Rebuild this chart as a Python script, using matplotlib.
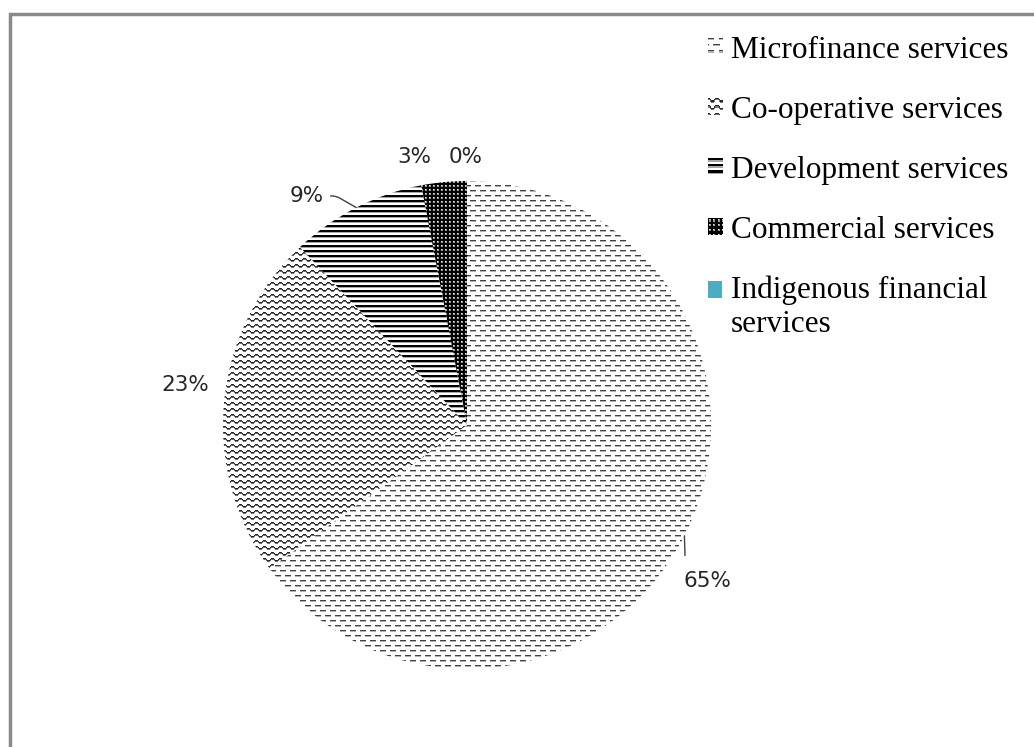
import numpy as np
import matplotlib
matplotlib.use('Agg')
import matplotlib.pyplot as plt
from matplotlib.patches import Patch, Rectangle
from matplotlib.image import BboxImage
from matplotlib.transforms import Bbox, TransformedBbox
from matplotlib.colors import Normalize

# Share of financial service providers
categories = ['Microfinance services', 'Co-operative services', 'Development services',
              'Commercial services', 'Indigenous financial\nservices']
shares = [65, 23, 9, 3, 0]
pct_labels = ['65%', '23%', '9%', '3%', '0%']

W, H = 1034, 747
cx, cy, r = 467, H - 425, 244


def dash_tile():
    t = np.ones((10, 10))
    t[0, 0:6] = 0.25
    t[1, 0:6] = 0.7
    t[5, 5:10] = 0.25
    t[5, 0:1] = 0.25
    t[6, 5:10] = 0.7
    t[6, 0:1] = 0.7
    return t


def zigzag_tile():
    t = np.ones((6, 8))
    offs = [0, 0, 1, 2, 2, 2, 1, 0]
    for x, o in enumerate(offs):
        t[o, x] = 0.15
        t[(o + 1) % 6, x] = min(t[(o + 1) % 6, x], 0.45)
    return t


def stripe_tile():
    t = np.ones((5, 4))
    t[0:2, :] = 0.0
    t[2, :] = 0.65
    return t


def checker_tile():
    t = np.zeros((4, 4))
    t[1:3, 1:3] = 0.6
    t[1, 1] = 0.9
    return t


tiles = [dash_tile(), zigzag_tile(), stripe_tile(), checker_tile(), None]
teal = '#4BACC6'


def full_texture(tile):
    th, tw = tile.shape
    return np.tile(tile, (H // th + 1, W // tw + 1))[:H, :W]


class TextureHandler:
    def __init__(self, tile):
        self.tile = tile

    def legend_artist(self, legend, orig_handle, fontsize, handlebox):
        x0, y0 = -handlebox.xdescent, -handlebox.ydescent
        w, h = handlebox.width, handlebox.height
        bb = TransformedBbox(Bbox.from_bounds(x0, y0, w, h), handlebox.get_transform())
        im = BboxImage(bb, cmap='gray', norm=Normalize(0, 1), interpolation='nearest')
        im.set_data(np.tile(self.tile, (4, 4))[:14, :14])
        handlebox.add_artist(im)
        return im


class FirstLineHandler:
    # swatch lined up with the first line of a two-line label
    def legend_artist(self, legend, orig_handle, fontsize, handlebox):
        x0, y0 = -handlebox.xdescent, -handlebox.ydescent
        w, h = handlebox.width, handlebox.height
        rect = Rectangle((x0, y0 + 0.56 * fontsize), w, h,
                         facecolor=orig_handle.get_facecolor(), lw=0,
                         transform=handlebox.get_transform())
        handlebox.add_artist(rect)
        return rect


fig = plt.figure(figsize=(W / 100, H / 100), dpi=100)
ax = fig.add_axes([0, 0, 1, 1])

wedges, _ = ax.pie(shares, startangle=90, counterclock=False, center=(cx, cy), radius=r,
                   colors=['white'] * 4 + [teal], wedgeprops=dict(linewidth=0))

for w, tile in zip(wedges, tiles):
    if tile is None:
        continue
    im = ax.imshow(full_texture(tile), extent=(0, W, 0, H), origin='upper', cmap='gray',
                   vmin=0, vmax=1, interpolation='nearest', zorder=2)
    im.set_clip_path(w)

# percentage labels outside the pie
label_dist = [1.173, 1.168, 1.146, 1.12, 1.10]
angle_nudge = [-6, -2.7, 8, 5.8, 0.4]
leader_pos = [(0.05, 1.0), None, (1.0, 0.5), None, None]
leader_shrink = [9, 0, 3, 0, 0]
leader_conn = ['arc3', None, 'angle,angleA=0,angleB=150,rad=4', None, None]
for w, txt, d, nudge, rp, sh, cs in zip(wedges, pct_labels, label_dist, angle_nudge,
                                        leader_pos, leader_shrink, leader_conn):
    mid = np.deg2rad((w.theta1 + w.theta2) / 2)
    ang = mid + np.deg2rad(nudge)
    tx, ty = cx + d * r * np.cos(ang), cy + d * r * np.sin(ang)
    if rp is not None:
        ex, ey = cx + r * np.cos(mid), cy + r * np.sin(mid)
        ax.annotate(txt, xy=(ex, ey), xytext=(tx, ty), ha='center', va='center',
                    fontsize=15.5, color='#262626', family='DejaVu Sans',
                    arrowprops=dict(arrowstyle='-', color='#404040', lw=1,
                                    shrinkA=sh, shrinkB=0, relpos=rp,
                                    connectionstyle=cs), zorder=5)
    else:
        ax.text(tx, ty, txt, ha='center', va='center', fontsize=15.5, color='#262626',
                family='DejaVu Sans', zorder=5)

# chart border
ax.add_patch(Rectangle((10, -20), W + 20, H + 20 - 14, fill=False,
                       edgecolor='#8a8a8a', lw=2.5, zorder=6))

handles = [Patch(label=c) for c in categories[:4]] + [Patch(facecolor=teal, label=categories[4])]
hmap = {h: TextureHandler(t) for h, t in zip(handles[:4], tiles[:4])}
hmap[handles[4]] = FirstLineHandler()
leg = ax.legend(handles=handles, handler_map=hmap, loc='upper left',
                bbox_to_anchor=(708, H - 36), bbox_transform=ax.transData,
                frameon=False, prop={'family': 'Liberation Serif', 'size': 22.5},
                handlelength=0.45, handleheight=0.45, handletextpad=0.28,
                labelspacing=0.99, borderpad=0, borderaxespad=0)
for t in leg.get_texts():
    t.set_color('black')

ax.set_xlim(0, W)
ax.set_ylim(0, H)
ax.set_aspect('auto')
ax.axis('off')

fig.savefig('out.png', dpi=100)
